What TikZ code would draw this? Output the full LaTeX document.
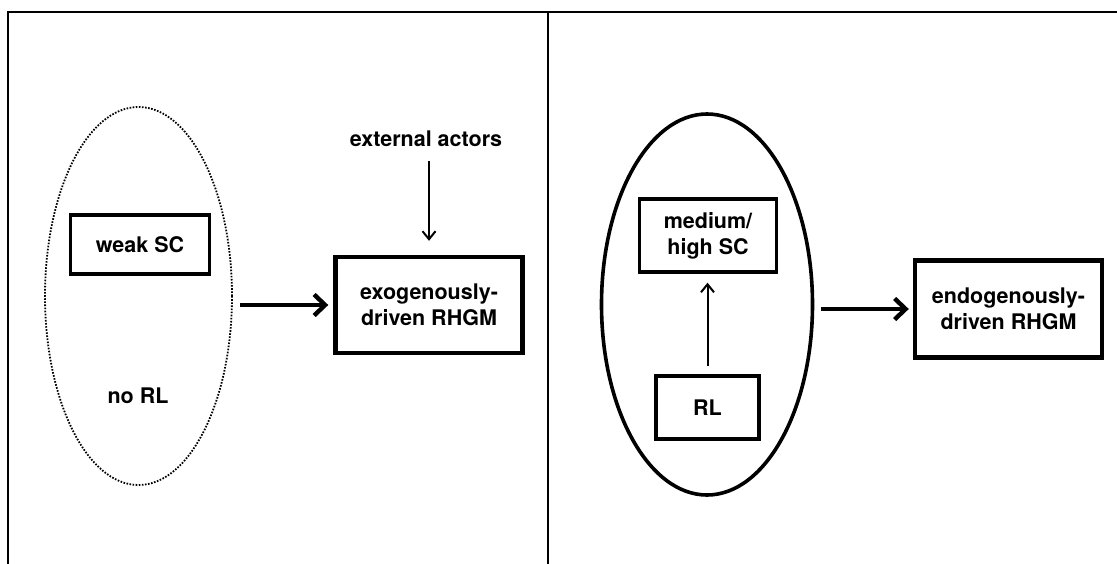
\documentclass[tikz,border=0pt]{standalone}
\usepackage{fontspec}
\setmainfont{TeX Gyre Heros}
\usetikzlibrary{shapes.geometric,arrows.meta}
\tikzset{
  lbl/.style={font=\fontsize{21.5}{26}\selectfont\bfseries, align=center, inner sep=0pt},
  thinbox/.style={draw, line width=3.4pt, inner sep=0pt, lbl},
  thickbox/.style={draw, line width=4.4pt, inner sep=0pt, lbl},
  bigarrow/.style={line width=4.4pt, -{Straight Barb[length=11pt, width=21pt, line width=4.4pt]}},
  smallarrow/.style={line width=2pt, -{Straight Barb[length=8pt, width=13pt, line width=2pt]}},
  frame/.style={line width=2.2pt}
}
\begin{document}
\begin{tikzpicture}[x=1pt,y=-1pt]
\useasboundingbox (0,0) rectangle (1117,563);
% frame
\coordinate (fbl) at (8,564);
\coordinate (ftl) at (8,12);
\coordinate (ftr) at (1118,12);
\coordinate (dt) at (548,12);
\coordinate (db) at (548,564);
\draw[frame] (fbl) -- (ftl) -- (ftr);
\draw[frame] (dt) -- (db);
% left panel
\node[ellipse, draw, line width=1.8pt, dash pattern=on 1.6pt off 1.5pt, minimum width=187pt, minimum height=378pt, inner sep=0pt] (e1) at (138.5,296) {};
\node[thinbox, minimum width=139pt, minimum height=59pt] (weak) at (140,244.5) {weak SC};
\node[lbl] (norl) at (138,396) {no RL};
\node[thickbox, minimum width=187pt, minimum height=96pt] (exo) at (429,305) {exogenously-\\driven RHGM};
\node[lbl] (ext) at (426,139) {external actors};
\draw[smallarrow, shorten <=14pt, shorten >=14pt] (ext.south -| exo.north) -- (exo.north);
\draw[bigarrow, shorten <=7pt, shorten >=5pt] (e1.east |- exo.west) -- (exo.west);
% right panel
\node[ellipse, draw, line width=3.6pt, minimum width=211pt, minimum height=381pt, inner sep=0pt] (e2) at (707,304.5) {};
\node[thinbox, minimum width=137pt, minimum height=73pt] (med) at (708,235.5) {medium/\\high SC};
\node[thinbox, minimum width=103pt, minimum height=63pt] (rl) at (707.5,407.5) {RL};
\node[thickbox, minimum width=187pt, minimum height=97pt] (endo) at (1008.5,309) {endogenously-\\driven RHGM};
\draw[smallarrow, shorten <=8pt, shorten >=9pt] (rl.north) -- (rl.north |- med.south);
\draw[bigarrow, shorten <=7pt, shorten >=4pt] (e2.east |- endo.west) -- (endo.west);
\end{tikzpicture}
\end{document}
